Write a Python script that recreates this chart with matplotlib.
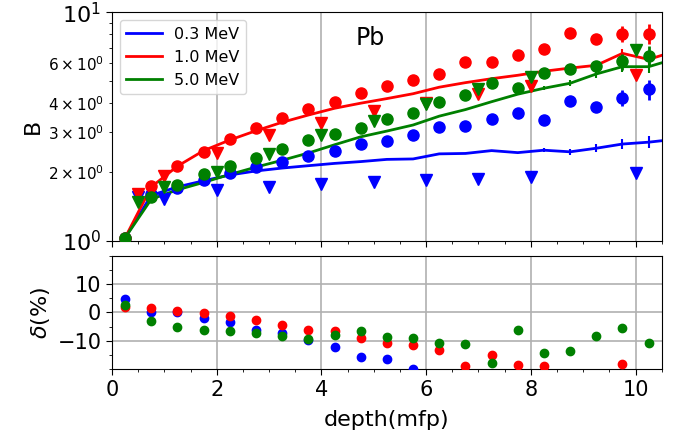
import numpy as np
import matplotlib
matplotlib.use("Agg")
import matplotlib.pyplot as plt
from matplotlib.ticker import MultipleLocator

# depth grid (mfp)
depth = [0.25, 0.75, 1.25, 1.75, 2.25, 2.75, 3.25, 3.75, 4.25, 4.75, 5.25,
         5.75, 6.25, 6.75, 7.25, 7.75, 8.25, 8.75, 9.25, 9.75, 10.25]
depth_line = depth + [10.75]
depth_tri = [0.5, 1.0, 2.0, 3.0, 4.0, 5.0, 6.0, 7.0, 8.0, 10.0]

energies = ["0.3 MeV", "1.0 MeV", "5.0 MeV"]
colors = ["blue", "red", "green"]

# calculated buildup (lines)
line_03 = [1.03, 1.58, 1.72, 1.83, 1.94, 2.02, 2.08, 2.13, 2.18, 2.22, 2.27,
           2.28, 2.40, 2.41, 2.48, 2.43, 2.49, 2.45, 2.54, 2.65, 2.70, 2.78]
line_10 = [1.03, 1.72, 2.12, 2.48, 2.76, 3.03, 3.30, 3.55, 3.80, 4.00, 4.19,
           4.40, 4.70, 4.92, 5.12, 5.30, 5.52, 5.70, 5.86, 6.61, 6.22, 6.75]
line_50 = [1.03, 1.52, 1.67, 1.80, 1.95, 2.10, 2.25, 2.42, 2.63, 2.85, 3.02,
           3.21, 3.51, 3.75, 4.06, 4.38, 4.65, 4.89, 5.37, 5.78, 5.78, 6.25]
line_err = [0.0] * 16 + [0.02, 0.03, 0.04, 0.05, 0.06, 0.0]

# reference values (circles)
circ_03 = [1.03, 1.60, 1.70, 1.84, 1.97, 2.11, 2.22, 2.36, 2.48, 2.64, 2.74,
           2.90, 3.16, 3.18, 3.42, 3.63, 3.38, 4.10, 3.86, 4.23, 4.60]
circ_10 = [1.03, 1.74, 2.13, 2.45, 2.78, 3.11, 3.43, 3.77, 4.04, 4.42, 4.74,
           5.05, 5.39, 6.04, 6.04, 6.50, 6.89, 8.09, 7.62, 8.04, 8.04]
circ_50 = [1.03, 1.55, 1.75, 1.95, 2.12, 2.31, 2.52, 2.75, 2.92, 3.11, 3.40,
           3.64, 4.04, 4.33, 4.89, 4.65, 5.44, 5.63, 5.82, 6.10, 6.44]
circ_rel_err = [0.0] * 17 + [0.02, 0.05, 0.08, 0.10]

# other data set (triangles)
tri_03 = [1.55, 1.52, 1.66, 1.72, 1.77, 1.81, 1.84, 1.86, 1.91, 1.97]
tri_10 = [1.60, 1.92, 2.43, 2.90, 3.29, 3.71, 4.02, 4.38, 4.77, 5.31]
tri_50 = [1.48, 1.72, 2.00, 2.39, 2.90, 3.35, 3.97, 4.60, 5.19, 6.84]

# relative difference (%)
delta_03 = [4.6, 0.0, 0.3, -1.9, -3.5, -6.0, -7.2, -9.7, -12.3, -15.5, -16.2,
            -19.9, -24.0, -24.2, -27.5, -33.0, -26.3, -40.0, -34.0, -37.0, -41.0]
delta_10 = [1.9, 1.5, 0.4, -0.2, -1.1, -2.5, -4.3, -6.2, -6.6, -8.9, -10.9,
            -11.4, -13.2, -18.7, -15.0, -18.5, -19.0, -30.0, -23.0, -18.2, -23.0]
delta_50 = [2.5, -3.1, -5.1, -6.2, -6.6, -7.2, -8.3, -9.3, -8.1, -6.6, -8.6,
            -8.9, -10.6, -11.2, -17.8, -6.0, -14.1, -13.5, -8.3, -5.4, -10.6]

lines = [line_03, line_10, line_50]
circs = [circ_03, circ_10, circ_50]
tris = [tri_03, tri_10, tri_50]
deltas = [delta_03, delta_10, delta_50]

fig = plt.figure(figsize=(6.81, 4.41), dpi=100)
ax1 = fig.add_axes([0.1645, 0.4542, 0.8072, 0.5179])
ax2 = fig.add_axes([0.1645, 0.1626, 0.8072, 0.2576], sharex=ax1)

handles = []
for i in range(3):
    eb = ax1.errorbar(depth_line, lines[i], yerr=np.array(line_err) * np.array(lines[i]),
                      fmt='-', color=colors[i], lw=2, elinewidth=1.5, capsize=0,
                      zorder=2)
    handles.append(eb.lines[0])
for i in range(3):
    ax1.plot(depth_tri, tris[i], 'v', color=colors[i], ms=8, zorder=3)
for i in range(3):
    ax1.errorbar(depth, circs[i], yerr=np.array(circ_rel_err) * np.array(circs[i]),
                 fmt='o', color=colors[i], ms=8, elinewidth=2, capsize=0, zorder=4)

ax1.set_yscale('log')
ax1.set_ylim(1, 10)
ax1.set_xlim(0, 10.5)
ax1.set_ylabel("B", fontsize=16)
ax1.tick_params(axis='y', which='major', labelsize=16, length=4.2)
ax1.tick_params(axis='y', which='minor', labelsize=11)
ax1.tick_params(axis='x', which='major', labelbottom=False, length=4.2)
ax1.xaxis.set_major_locator(MultipleLocator(2))
ax1.xaxis.set_minor_locator(MultipleLocator(0.5))
ax1.grid(True, which='major', axis='x', color='#b0b0b0', lw=1.2)
ax1.text(0.47, 0.887, "Pb", transform=ax1.transAxes, fontsize=17,
         ha='center', va='center')
ax1.legend(handles, energies, loc='upper left', fontsize=11.5, handlelength=2.2)

# bottom panel: blue, red, green order
for i in [0, 1, 2]:
    ax2.plot(depth, deltas[i], 'o', color=colors[i], ms=6, zorder=3)
ax2.set_ylim(-20, 20)
ax2.set_xlim(0, 10.5)
ax2.yaxis.set_minor_locator(MultipleLocator(5))
ax2.set_yticks([-10, 0, 10])
ax2.xaxis.set_major_locator(MultipleLocator(2))
ax2.xaxis.set_minor_locator(MultipleLocator(0.5))
ax2.tick_params(axis='both', which='major', labelsize=15, length=4.2)
ax2.grid(True, which='major', color='#b0b0b0', lw=1.2)
ax2.set_xlabel("depth(mfp)", fontsize=16, labelpad=7)
ax2.set_ylabel(r"$\delta$(%)", fontsize=16)

fig.savefig("out.png", dpi=100)
